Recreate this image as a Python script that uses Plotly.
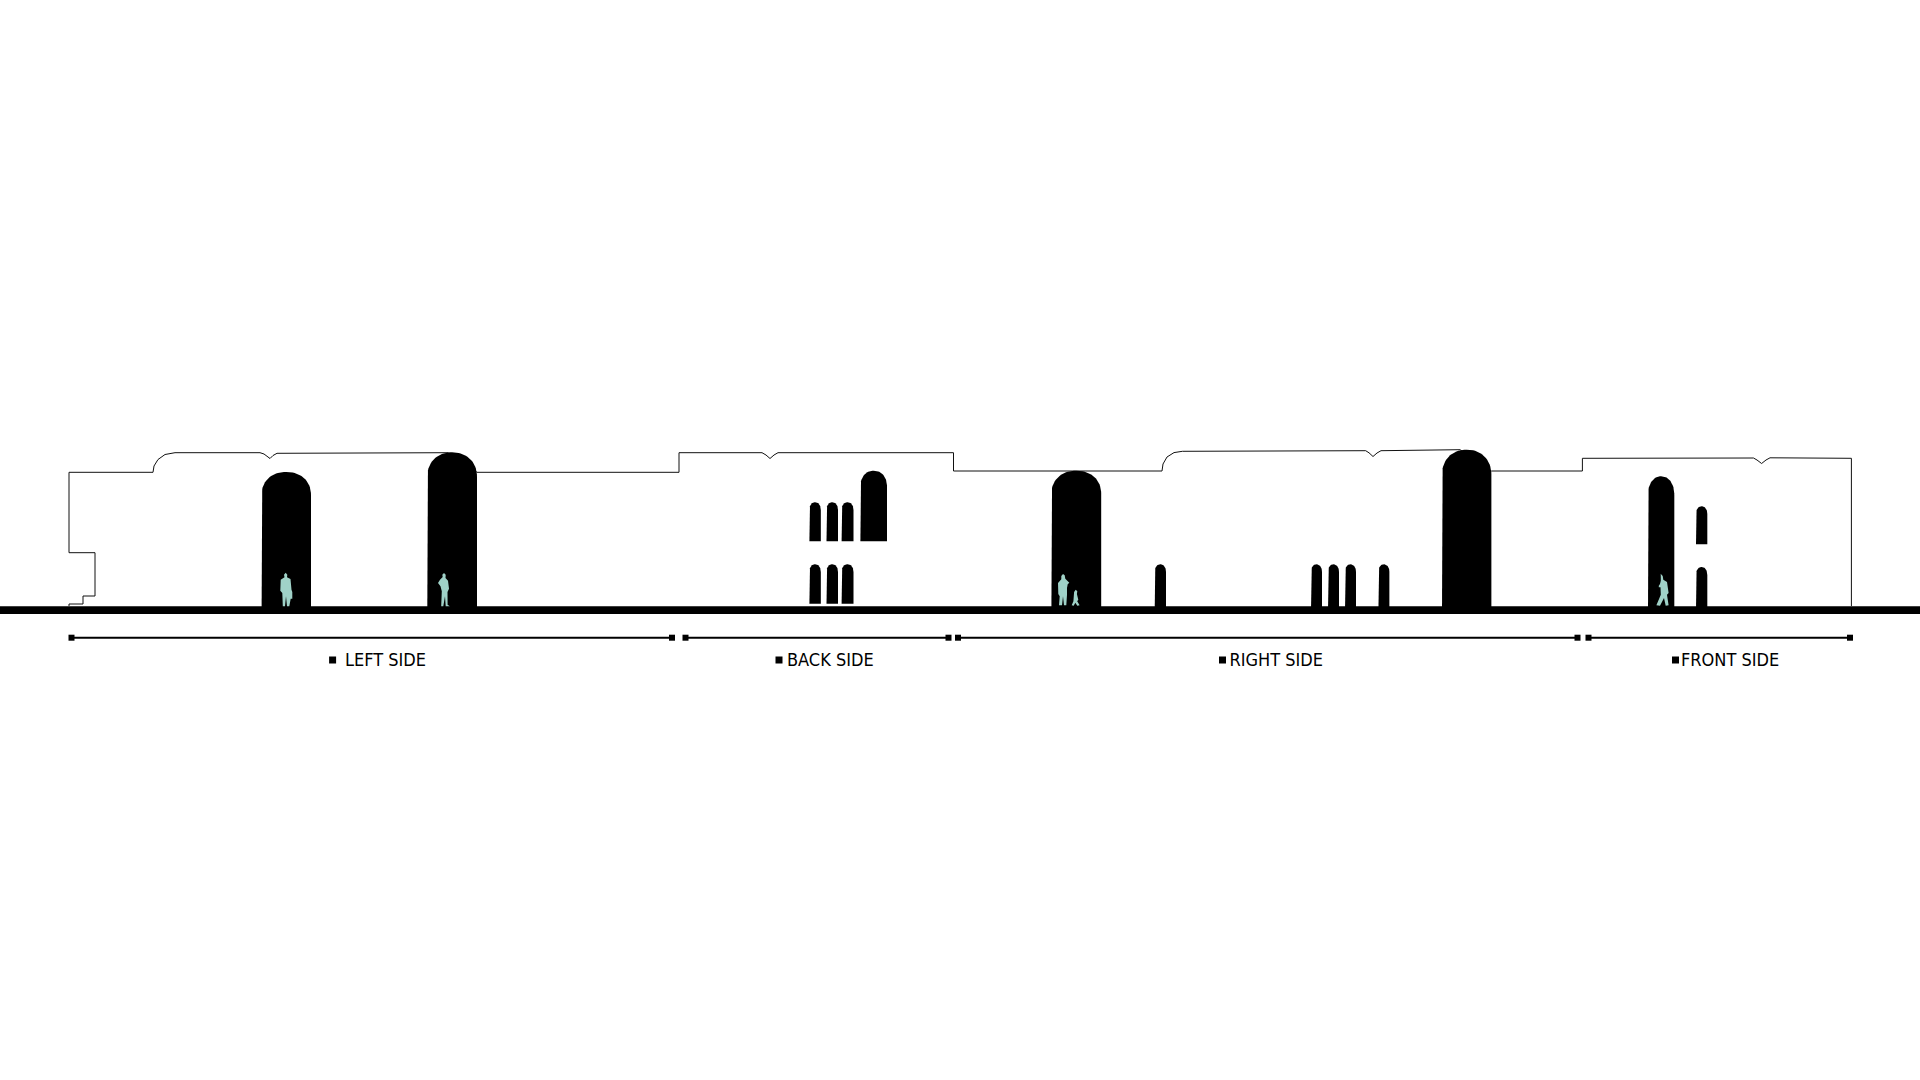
import numpy as np
import plotly.graph_objects as go

black = '#000000'
teal = '#a0d2c8'
outline_color = '#111111'

# wall outline
outline_x = [69, 69, 83, 83, 95, 95, 69, 69, 153, 154, 158, 165, 175, 260, 264, 267, 270, 273, 277, 448,
             477, 679, 679, 762, 766, 770, 774, 778, 953.5, 953.5, 1162, 1163, 1167, 1174, 1182.4, 1365.7, 1369, 1373, 1377, 1381, 1460,
             1491.4, 1582.4, 1582.4, 1753.5, 1757, 1761.6, 1766, 1770, 1851.4, 1851.4]
outline_y = [606, 604, 604, 596, 596, 552.7, 552.7, 472.3, 472.3, 466, 459.5, 454.5, 452.7, 452.7, 454, 456, 458.5, 455.5, 453.3, 452.7,
             472.3, 472.3, 452.7, 452.7, 455, 458.5, 455, 452.7, 452.7, 471, 471, 464, 457, 452.6, 451.3, 450.7, 452.8, 456.5, 453, 450.7, 449.7,
             471, 471, 458.3, 458, 460, 463.5, 460, 457.8, 458.3, 606]

# arches and windows
arch_left = [261.6, 427.3, 809.4, 826.5, 841.6, 860.4, 809.4, 826.5, 841.6, 1051.4, 1154.7, 1311, 1328, 1345, 1378.4, 1442, 1648, 1696, 1696]
arch_right = [311, 477, 820.8, 838, 853.5, 887, 820.8, 838, 853.5, 1101.2, 1166, 1322, 1339, 1356, 1389.4, 1491.4, 1674.3, 1707.3, 1707.3]
arch_top = [472, 452.3, 502.3, 502.3, 502.3, 470.7, 564.3, 564.3, 564.3, 470.7, 564.3, 564.3, 564.3, 564.3, 564.3, 449.7, 476.3, 506.3, 567]
arch_spring = [495, 477, 510, 510, 510, 486.7, 572, 572, 572, 494, 572, 572, 572, 572, 572, 475, 495, 514, 575]
arch_bottom = [610, 610, 541.3, 541.3, 541.3, 541.3, 603.7, 603.7, 603.7, 610, 610, 610, 610, 610, 610, 610, 610, 544.3, 610]

ground_x = [0, 1920, 1920, 0]
ground_y = [606.3, 606.3, 614, 614]

# people
man1_x = [285.7, 287.3, 287, 290.5, 291.5, 292.3, 292.3, 290.7, 289.3, 287, 286, 285, 282.8, 282.3, 280.3, 280.7, 284.5, 284]
man1_y = [572.7, 574.7, 577.3, 579, 589.7, 592, 598.7, 598.7, 606.3, 606.3, 596.3, 606.3, 606.3, 593, 590.7, 579.7, 577.3, 574.7]
man2_x = [444, 445.7, 445.5, 448, 449, 447.5, 447.6, 449.8, 445.7, 445, 443.3, 441.2, 441.8, 440.5, 438, 440, 442.7, 442.3]
man2_y = [573, 574.7, 578, 580.7, 588.7, 592, 604.7, 606.3, 606.3, 596.3, 606.3, 606.3, 591.3, 586.3, 583, 579.7, 577, 574.7]
man3_x = [1063, 1064.7, 1065.3, 1069.3, 1067.7, 1067, 1067, 1066.3, 1064, 1063, 1062, 1059, 1059.7, 1058.3, 1058, 1061.3, 1061.3]
man3_y = [574, 575.3, 578.7, 582.7, 584.3, 588, 594.7, 605.3, 605.3, 596.3, 605.3, 605.3, 596.3, 594, 583, 579.3, 576]
child_x = [1075.7, 1077.3, 1076.9, 1078.3, 1077.2, 1079.6, 1077.3, 1075.3, 1073.7, 1071.7, 1073.4, 1073.7, 1074.1]
child_y = [589.7, 591.3, 594, 599.7, 601.3, 605.3, 605.7, 602.7, 605.7, 605.3, 601.3, 595.3, 592]
walker_x = [1660.7, 1662.7, 1663.3, 1667, 1668.6, 1667, 1668.6, 1665.7, 1664, 1660, 1656.4, 1660.8, 1660.5, 1658.8, 1658.8, 1660, 1660.8, 1660.8]
walker_y = [573.7, 576, 579.7, 582, 593, 594.7, 605.3, 605.7, 598, 605.7, 605.3, 594.7, 587.3, 587.3, 585.7, 584, 580.7, 578]

# dimension bars and labels
bar_start = [71.5, 685.5, 958, 1588.5]
bar_end = [672, 948.5, 1577.5, 1850]
bar_y = 637.7
labels = ['LEFT SIDE', 'BACK SIDE', 'RIGHT SIDE', 'FRONT SIDE']
label_x = [345, 787, 1229.5, 1681]
label_y = 661
bullet_x = [332.6, 779, 1222.5, 1675.5]

fig = go.Figure()


def add_fill(x, y, color):
    fig.add_trace(go.Scatter(x=x, y=y, mode='lines', fill='toself', fillcolor=color,
                             line=dict(width=0), hoverinfo='skip', showlegend=False))


add_fill(ground_x, ground_y, black)

fig.add_trace(go.Scatter(x=outline_x, y=outline_y, mode='lines', line=dict(color=outline_color, width=1),
                         hoverinfo='skip', showlegend=False))

# domes are a touch squarer than a plain ellipse
angles = np.linspace(np.pi, 0, 41)
cos_part = np.sign(np.cos(angles)) * np.abs(np.cos(angles)) ** 0.92
sin_part = np.abs(np.sin(angles)) ** 0.92
for l, r, t, s, b in zip(arch_left, arch_right, arch_top, arch_spring, arch_bottom):
    mid = (l + r) / 2
    xs = [l] + list(mid + (r - l) / 2 * cos_part) + [r]
    ys = [b] + list(s - (s - t) * sin_part) + [b]
    add_fill(xs, ys, black)

for px, py in [(man1_x, man1_y), (man2_x, man2_y), (man3_x, man3_y), (child_x, child_y), (walker_x, walker_y)]:
    add_fill(px, py, teal)

for x0, x1 in zip(bar_start, bar_end):
    fig.add_trace(go.Scatter(x=[x0, x1], y=[bar_y, bar_y], mode='lines+markers',
                             line=dict(color=black, width=2),
                             marker=dict(symbol='square', size=6, color=black),
                             hoverinfo='skip', showlegend=False))

fig.add_trace(go.Scatter(x=bullet_x, y=[660] * 4, mode='markers',
                         marker=dict(symbol='square', size=7, color=black),
                         hoverinfo='skip', showlegend=False))
fig.add_trace(go.Scatter(x=label_x, y=[label_y] * 4, mode='text', text=labels, textposition='middle right',
                         textfont=dict(family='DejaVu Sans Condensed, DejaVu Sans', size=18, color=black),
                         hoverinfo='skip', showlegend=False))

fig.update_layout(
    width=1920,
    height=1080,
    margin=dict(l=0, r=0, t=0, b=0),
    paper_bgcolor='white',
    plot_bgcolor='white',
    xaxis=dict(range=[0, 1920], visible=False, fixedrange=True),
    yaxis=dict(range=[1080, 0], visible=False, fixedrange=True),
)

fig.write_html("out.html", config=dict(displayModeBar=False),
               post_script="document.body.style.margin='0';document.body.style.overflow='hidden';")
